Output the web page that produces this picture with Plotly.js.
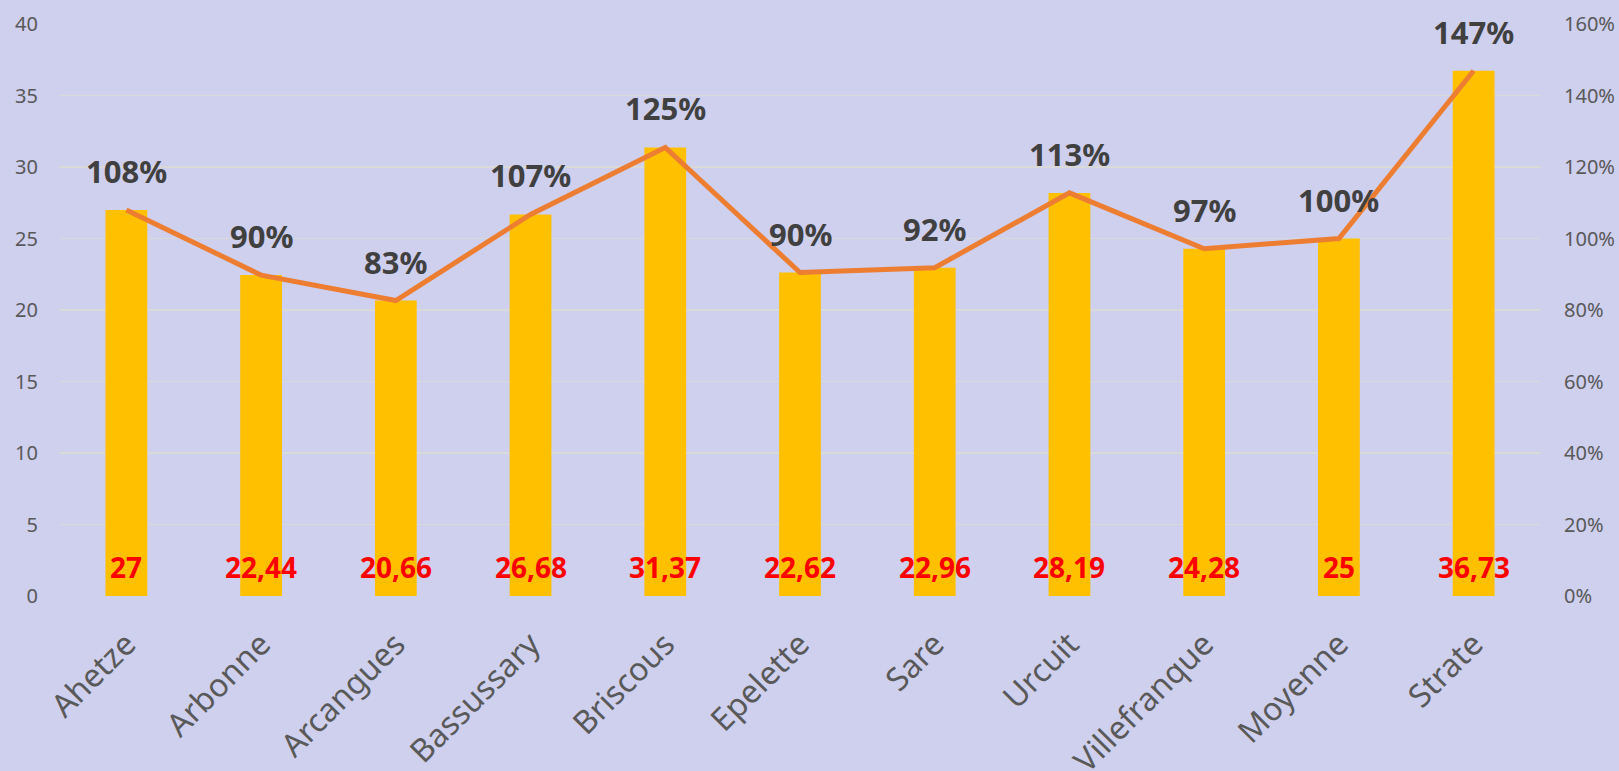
<!DOCTYPE html>
<html>
<head>
<meta charset="utf-8">
<script src="https://cdn.plot.ly/plotly-3.0.1.min.js"></script>
<style>html,body{margin:0;padding:0;background:#CFCFEE;}#chart{width:1619px;height:771px;}</style>
</head>
<body>
<div id="chart"></div>
<script>
const categories = ["Ahetze","Arbonne","Arcangues","Bassussary","Briscous","Epelette","Sare","Urcuit","Villefranque","Moyenne","Strate"];
const values = [27, 22.44, 20.66, 26.68, 31.37, 22.62, 22.96, 28.19, 24.28, 25, 36.73];
const ratios = [1.08, 0.8976, 0.8264, 1.0672, 1.2548, 0.9048, 0.9184, 1.1276, 0.9712, 1.00, 1.4692];

const fmtVal = v => String(v).replace('.', ',');
const fmtPct = r => Math.round(r * 100) + '%';

const barTrace = {
  type: 'bar', x: categories, y: values,
  marker: {color: '#FFC000'},
  hoverinfo: 'skip', showlegend: false
};
const lineTrace = {
  type: 'scatter', mode: 'lines', x: categories, y: ratios, yaxis: 'y2',
  line: {color: '#ED7D31', width: 5},
  hoverinfo: 'skip', showlegend: false
};

const annotations = [];
categories.forEach((c, i) => {
  annotations.push({
    x: c, y: 2, xref: 'x', yref: 'y', showarrow: false,
    text: fmtVal(values[i]),
    font: {family: 'Noto Sans', size: 28, color: '#FF0000', weight: 'bold'}
  });
  annotations.push({
    x: c, y: ratios[i], xref: 'x', yref: 'y2', showarrow: false, yshift: 39,
    text: fmtPct(ratios[i]),
    font: {family: 'Noto Sans', size: 31, color: '#404040', weight: 'bold'}
  });
});

const tickFont = {family: 'Noto Sans', size: 20, color: '#595959'};
const layout = {
  width: 1619, height: 771,
  paper_bgcolor: '#CFCFEE', plot_bgcolor: '#CFCFEE',
  margin: {l: 59, r: 78, t: 24, b: 175},
  bargap: 0.69,
  xaxis: {
    tickangle: -45, tickfont: {family: 'Noto Sans', size: 32, color: '#595959'},
    showgrid: false, zeroline: false, showline: false, ticks: '', automargin: false,
    ticklabelstandoff: 22
  },
  yaxis: {
    range: [0, 40], dtick: 5, tickfont: tickFont,
    gridcolor: '#D9D9D9', gridwidth: 1.5, zeroline: false, showline: false, ticks: '',
    automargin: false, ticklabelstandoff: 20
  },
  yaxis2: {
    overlaying: 'y', side: 'right', range: [0, 1.6], dtick: 0.2, tickformat: '.0%',
    tickfont: tickFont, showgrid: false, zeroline: false, showline: false, ticks: '',
    automargin: false, ticklabelstandoff: 22
  },
  annotations: annotations
};

Plotly.newPlot('chart', [barTrace, lineTrace], layout, {displayModeBar: false, staticPlot: true});
</script>
</body>
</html>
